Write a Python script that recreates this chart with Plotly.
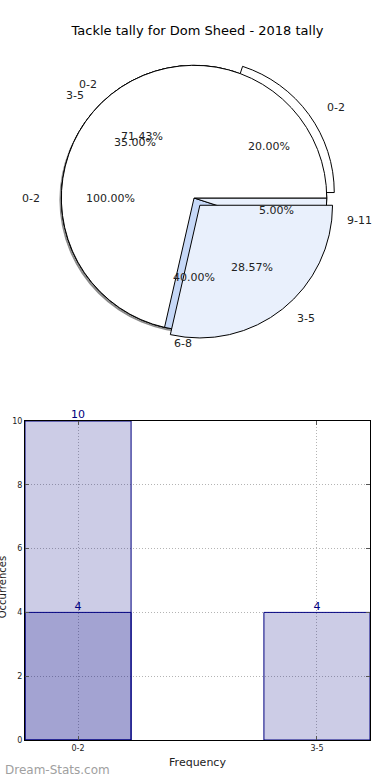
import math
import plotly.graph_objects as go

# ---------------- data ----------------
chart_title = "Tackle tally for Dom Sheed - 2018 tally"

pie_a_labels = ["0-2"]
pie_a_values = [100.0]

pie_b_labels = ["0-2", "3-5"]
pie_b_values = [71.43, 28.57]

pie_c_labels = ["0-2", "3-5", "6-8", "9-11"]
pie_c_values = [20.0, 35.0, 40.0, 5.0]

bar_categories = ["0-2", "3-5"]
bar_all_values = [10, 4]
bar_sub_categories = ["0-2"]
bar_sub_values = [4]
y_tick_values = [0, 2, 4, 6, 8, 10]

x_title = "Frequency"
y_title = "Occurrences"
watermark = "Dream-Stats.com"

# ---------------- layout geometry ----------------
W, H = 390, 780
ML, MR, MT, MB = 19, 20, 40, 40
PW, PH = W - ML - MR, H - MT - MB
CX, CY, R = 191, 198, 135          # pie centre / radius in pixels
TRX, TRY = 141, 132                # label-space radii (original pie was elliptical)
PULL_B = [0, 0.07]
PULL_C = [0.07, 0, 0, 0]
FONT = "DejaVu Sans"


def px_x(px):
    return (px - ML) / PW


def px_y(py):
    return (H - MB - py) / PH


def pie_domain(pull, dx=0, dy=0):
    s = R * (1 + max(pull))
    return dict(x=[px_x(CX + dx - s), px_x(CX + dx + s)],
                y=[px_y(CY + dy + s), px_y(CY + dy - s)])


def start_at_three(values):
    # first wedge starts at 3 o'clock and wedges run counter-clockwise
    return 90 - 360 * values[0] / sum(values)


common = dict(sort=False, direction="counterclockwise",
              textinfo="none", hoverinfo="skip", showlegend=False)

fig = go.Figure()

# shadow
fig.add_trace(go.Pie(values=[1], labels=["s"], domain=pie_domain([0], -2, 2), rotation=0,
                     marker=dict(colors=["rgba(0,0,0,0.45)"], line=dict(width=0)),
                     **common))
fig.add_trace(go.Pie(values=pie_a_values, labels=pie_a_labels, domain=pie_domain([0]),
                     rotation=start_at_three(pie_a_values),
                     marker=dict(colors=["#ffffff"], line=dict(color="black", width=1)),
                     **common))
fig.add_trace(go.Pie(values=pie_c_values, labels=pie_c_labels, domain=pie_domain(PULL_C),
                     pull=PULL_C, rotation=start_at_three(pie_c_values),
                     marker=dict(colors=["#ffffff", "#ffffff", "#c6d8f7", "#e9f0fc"],
                                 line=dict(color="black", width=1)),
                     **common))
fig.add_trace(go.Pie(values=pie_b_values, labels=pie_b_labels, domain=pie_domain(PULL_B),
                     pull=PULL_B, rotation=start_at_three(pie_b_values),
                     marker=dict(colors=["#ffffff", "#e9f0fc"],
                                 line=dict(color="black", width=1)),
                     **common))

# overlay axis in units of label radius, for pie labels
y2_dom = [0.52, 1.0]
x2_range = [(ML - CX) / TRX, (W - MR - CX) / TRX]
y_top_px = H - MB - y2_dom[1] * PH
y_bot_px = H - MB - y2_dom[0] * PH
y2_range = [(CY - y_bot_px) / TRY, (CY - y_top_px) / TRY]

annotations = []
for labels, values, pulls in [(pie_a_labels, pie_a_values, [0]),
                              (pie_b_labels, pie_b_values, PULL_B),
                              (pie_c_labels, pie_c_values, PULL_C)]:
    total = sum(values)
    cum = 0.0
    for lab, val, p in zip(labels, values, pulls):
        mid = 2 * math.pi * (cum + val / 2) / total
        cum += val
        c, s = math.cos(mid), math.sin(mid)
        annotations.append(dict(xref="x2", yref="y2", x=(1.1 + p) * c, y=(1.1 + p) * s,
                                text=lab, showarrow=False,
                                xanchor="right" if c < 0 else "left", yanchor="middle",
                                font=dict(family=FONT, size=11, color="#222")))
        annotations.append(dict(xref="x2", yref="y2", x=(0.6 + p) * c, y=(0.6 + p) * s,
                                text=f"{100 * val / total:.2f}%", showarrow=False,
                                xanchor="center", yanchor="middle",
                                font=dict(family=FONT, size=11, color="#222")))

fig.add_trace(go.Scatter(x=[0], y=[0], xaxis="x2", yaxis="y2", mode="markers",
                         marker=dict(opacity=0), hoverinfo="skip", showlegend=False))

# ---------------- bars ----------------
bar_fill = "rgba(0,0,128,0.2)"
fig.add_trace(go.Bar(x=bar_categories, y=bar_all_values, width=0.444,
                     marker=dict(color=bar_fill, line=dict(color="#000080", width=1)),
                     hoverinfo="skip", showlegend=False))
fig.add_trace(go.Bar(x=bar_sub_categories, y=bar_sub_values, width=0.444,
                     marker=dict(color=bar_fill, line=dict(color="#000080", width=1)),
                     hoverinfo="skip", showlegend=False))
fig.add_trace(go.Scatter(x=bar_categories, y=bar_all_values, mode="text",
                         text=[str(v) for v in bar_all_values], textposition="top center",
                         textfont=dict(family=FONT, size=11, color="#000080"),
                         cliponaxis=False, hoverinfo="skip", showlegend=False))
fig.add_trace(go.Scatter(x=bar_sub_categories, y=bar_sub_values, mode="text",
                         text=[str(v) for v in bar_sub_values], textposition="top center",
                         textfont=dict(family=FONT, size=11, color="#000080"),
                         cliponaxis=False, hoverinfo="skip", showlegend=False))

bar_top = px_y(421)
annotations.append(dict(xref="paper", yref="paper", x=px_x(-4), y=bar_top * 0.48,
                        text=y_title, textangle=-90, showarrow=False,
                        xanchor="center", yanchor="middle",
                        font=dict(family=FONT, size=10, color="#222")))
annotations.append(dict(xref="paper", yref="paper", x=px_x(-3), y=px_y(770),
                        text=watermark, showarrow=False, xanchor="left", yanchor="middle",
                        font=dict(family=FONT, size=12, color="#a0a0a0")))

axis_common = dict(showline=True, linecolor="black", linewidth=1, mirror="allticks",
                   ticks="inside", ticklen=4, tickcolor="#555",
                   showgrid=True, gridcolor="#b4b4b4", griddash="1px,2px", gridwidth=1,
                   zeroline=False, tickfont=dict(family=FONT, size=8, color="#222"))

fig.update_layout(
    width=W, height=H, margin=dict(l=ML, r=MR, t=MT, b=MB),
    paper_bgcolor="white", plot_bgcolor="white",
    barmode="overlay", showlegend=False,
    title=dict(text=chart_title, x=0.5, xref="paper", y=1 - 30 / H, yanchor="middle",
               font=dict(family=FONT, size=13, color="black")),
    xaxis=dict(domain=[0, 1], range=[-0.222, 1.222], type="category",
               title=dict(text=x_title, font=dict(family=FONT, size=11, color="#222"),
                          standoff=6),
               anchor="y", **axis_common),
    yaxis=dict(domain=[0, bar_top], range=[0, 10], tickvals=y_tick_values,
               anchor="x", **axis_common),
    xaxis2=dict(domain=[0, 1], range=x2_range, visible=False, anchor="y2"),
    yaxis2=dict(domain=y2_dom, range=y2_range, visible=False, anchor="x2"),
    annotations=annotations,
)

fig.write_html("out.html", config={"displayModeBar": False})
